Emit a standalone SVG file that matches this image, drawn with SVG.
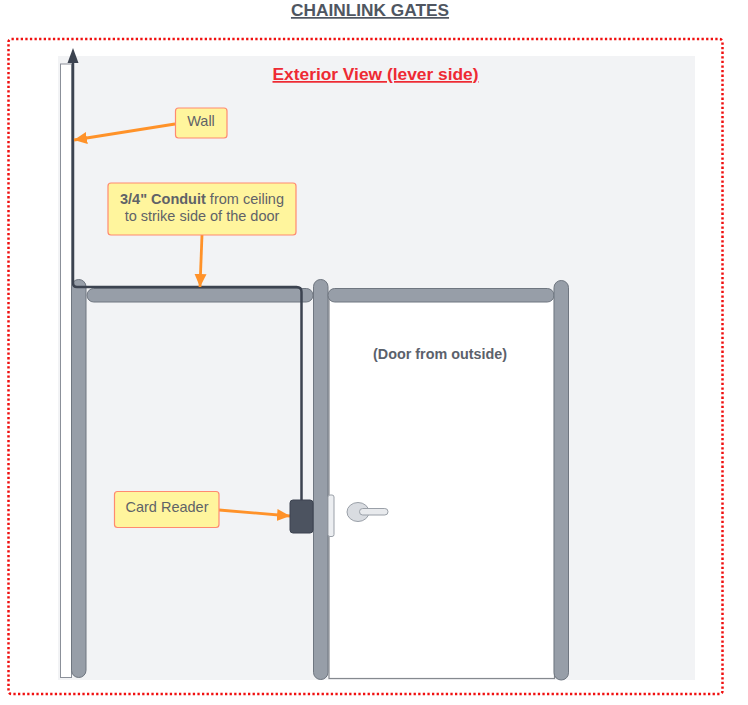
<svg xmlns="http://www.w3.org/2000/svg" width="748" height="705" viewBox="0 0 748 705">
<style>
text{font-family:"Liberation Sans",Arial,sans-serif}
.post{fill:#979ea8;stroke:#6f7680;stroke-width:1}
.note{fill:#fff59d;stroke:#ff8a70;stroke-width:1.2}
.nt{font-size:14.500px;fill:#5f6368;text-anchor:middle}
.ar{fill:none;stroke:#ff9229;stroke-width:2.800}
</style>
<defs><marker id="ah" markerUnits="userSpaceOnUse" markerWidth="14" markerHeight="14" viewBox="0 0 14 14" refX="13" refY="7" orient="auto"><path d="M0 1L13 7L0 13Z" fill="#ff9229"/></marker></defs>
<rect width="748" height="705" fill="#fff"/>
<g id="title"><text x="370" y="16" font-size="17.300" font-weight="700" fill="#4f5661" text-anchor="middle" text-decoration="underline">CHAINLINK GATES</text></g>
<g id="frame"><rect x="8.500" y="39" width="714" height="655" rx="3" fill="none" stroke="#f01010" stroke-width="2.500" stroke-dasharray="2.300 2.300"/></g>
<g id="background"><rect x="58" y="56" width="637" height="624" fill="#f2f3f5"/></g>
<g id="view-label"><text x="375.500" y="80" font-size="17.350" font-weight="700" fill="#ee2a33" text-anchor="middle" text-decoration="underline">Exterior View (lever side)</text></g>
<g id="wall"><rect x="60.500" y="64" width="11" height="613.500" fill="#fff" stroke="#8b9099" stroke-width="1"/></g>
<g id="door"><rect x="329" y="296" width="225.500" height="382.500" fill="#fff" stroke="#85898f" stroke-width="1.200"/></g>
<g id="door-label"><text x="440" y="358.500" font-size="14.350" font-weight="700" fill="#5b616b" text-anchor="middle">(Door from outside)</text></g>
<g id="post-left"><rect x="71.500" y="279.500" width="14.500" height="398" rx="7.200" class="post"/></g>
<g id="rail-left"><rect x="87" y="288.500" width="226" height="13.500" rx="6.700" class="post"/></g>
<g id="post-middle"><rect x="313.500" y="279.500" width="14.500" height="400" rx="7.200" class="post"/></g>
<g id="rail-right"><rect x="328" y="288.500" width="226" height="13.500" rx="6.700" class="post"/></g>
<g id="post-right"><rect x="554" y="280.500" width="14.500" height="399.500" rx="7.200" class="post"/></g>
<g id="strike-plate"><rect x="328" y="495" width="6" height="41.500" rx="2" fill="#eceef1" stroke="#9aa0a8" stroke-width="1"/></g>
<g id="lever"><ellipse cx="358" cy="512" rx="11" ry="9.500" fill="#d9dce1" stroke="#9aa0a8" stroke-width="1"/><rect x="359.500" y="508.500" width="28.500" height="6.500" rx="3.200" fill="#e8eaed" stroke="#9aa0a8" stroke-width="1"/></g>
<g id="connectors">
<path d="M301.500 500V292Q301.500 287 296.500 287H77Q73 287 73 283V62" fill="none" stroke="#3c4350" stroke-width="2.500"/>
<path d="M73 48L78.500 63H67.500Z" fill="#3c4350"/>
<path d="M175 124L74 140" class="ar" marker-end="url(#ah)"/>
<path d="M202 235L200 287" class="ar" marker-end="url(#ah)"/>
<path d="M219 510L290 516" class="ar" marker-end="url(#ah)"/>
</g>
<g id="card-reader"><rect x="290" y="500" width="23" height="33" rx="3" fill="#4c5360" stroke="#3c4350" stroke-width="1"/></g>
<g id="note-wall"><rect x="175.500" y="108" width="51.500" height="30" rx="3" class="note"/><text x="201" y="126" class="nt">Wall</text></g>
<g id="note-conduit"><rect x="108" y="183" width="188" height="52" rx="3" class="note"/><text x="202" y="204" class="nt"><tspan font-weight="700">3/4" Conduit</tspan> from ceiling</text><text x="202" y="221" class="nt">to strike side of the door</text></g>
<g id="note-reader"><rect x="114.500" y="491.500" width="104.500" height="36" rx="3" class="note"/><text x="167" y="512" class="nt">Card Reader</text></g>
</svg>
